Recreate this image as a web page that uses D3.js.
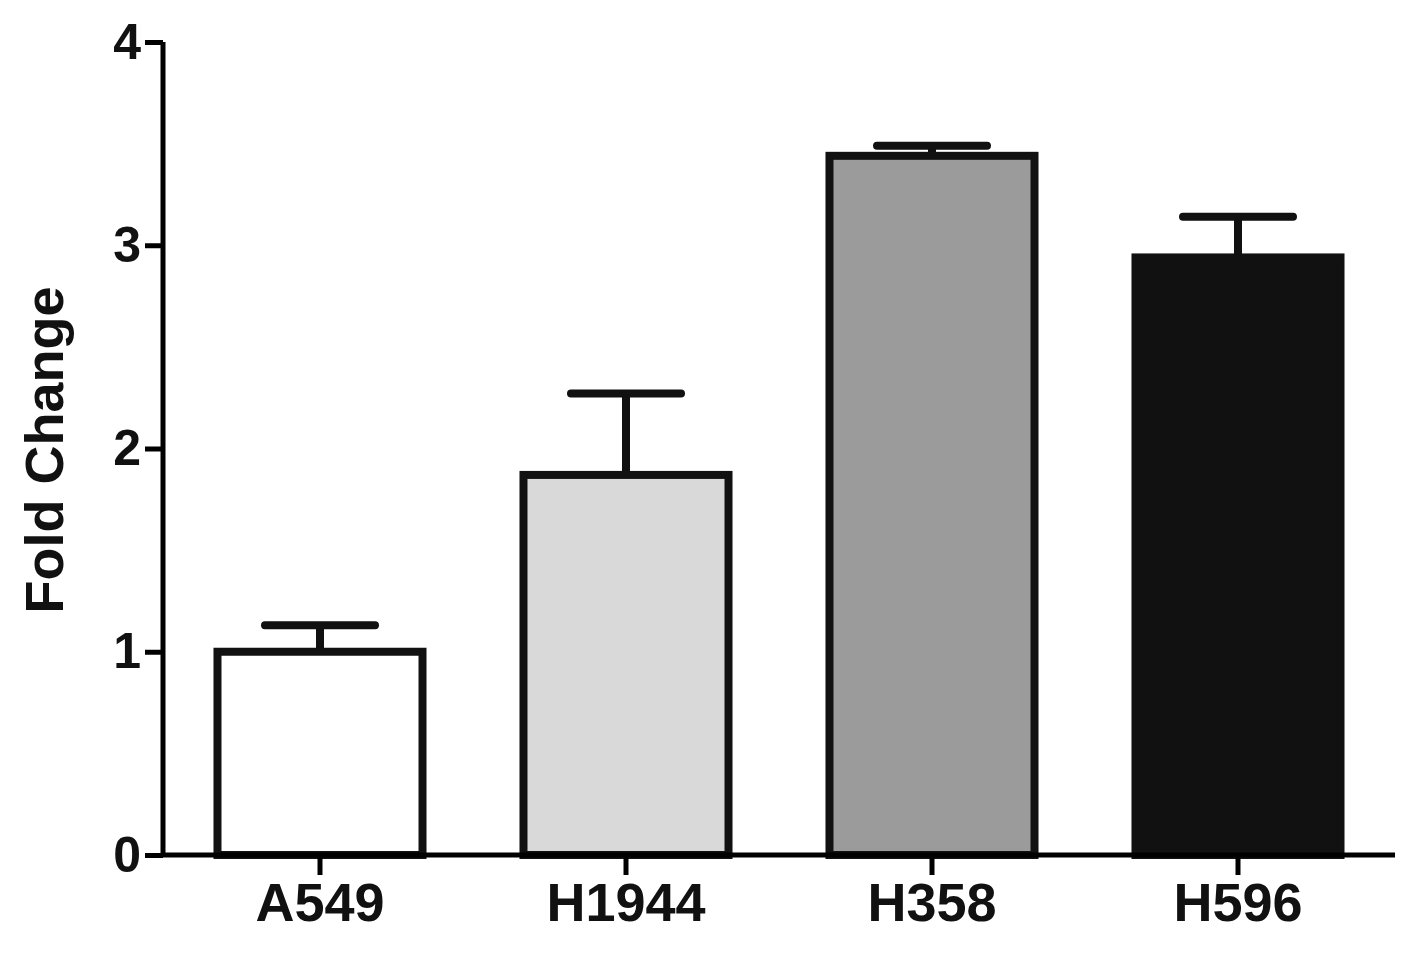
<!DOCTYPE html>
<html><head><meta charset="utf-8">
<script src="https://cdn.jsdelivr.net/npm/d3@7"></script>
<style>body{margin:0;background:#fff}text{font-family:"Liberation Sans",Arial,sans-serif;font-weight:bold}</style>
</head><body>
<script>
// data
const categories = ["A549", "H1944", "H358", "H596"];
const values = [1.0, 1.87, 3.44, 2.94];
const errors = [0.13, 0.40, 0.05, 0.20];
const fills = ["#ffffff", "#d9d9d9", "#9a9b9a", "#111111"];
const yTicks = [0, 1, 2, 3, 4];

const svg = d3.select("body").append("svg").attr("width", 1405).attr("height", 958);

const x = d3.scaleBand().domain(categories).range([167, 1391]).paddingInner(0.33).paddingOuter(0.165);
const y = d3.scaleLinear().domain([0, 4]).range([855, 42]);

// y axis
const ya = svg.append("g").attr("transform", "translate(163,0)")
    .call(d3.axisLeft(y).tickValues(yTicks).tickSize(18).tickPadding(4).tickFormat(d3.format("d")));
ya.select(".domain").attr("stroke-width", 5).attr("d", "M0,857V42");
ya.selectAll(".tick line").attr("stroke-width", 5);
ya.selectAll("text").attr("font-size", 50).attr("fill", "#111");

// error bars
const cap = 110;
const eb = svg.append("g");
categories.forEach((c, i) => {
    const cx = x(c) + x.bandwidth() / 2;
    eb.append("line").attr("x1", cx).attr("x2", cx).attr("y1", y(values[i])).attr("y2", y(values[i] + errors[i]))
        .attr("stroke", "#111").attr("stroke-width", 8);
    eb.append("line").attr("x1", cx - cap / 2).attr("x2", cx + cap / 2).attr("y1", y(values[i] + errors[i])).attr("y2", y(values[i] + errors[i]))
        .attr("stroke", "#111").attr("stroke-width", 8).attr("stroke-linecap", "round");
});

// bars
svg.selectAll(".bar").data(categories).enter().append("rect")
    .attr("x", d => x(d)).attr("width", x.bandwidth())
    .attr("y", (d, i) => y(values[i])).attr("height", (d, i) => y(0) - y(values[i]))
    .attr("fill", (d, i) => fills[i]).attr("stroke", "#111").attr("stroke-width", 8);

// x axis
const xa = svg.append("g").attr("transform", "translate(0,855)")
    .call(d3.axisBottom(x).tickSize(20).tickPadding(8));
xa.select(".domain").attr("stroke-width", 5).attr("d", "M161,0H1395");
xa.selectAll(".tick line").attr("stroke-width", 5);
xa.selectAll("text").attr("font-size", 54).attr("fill", "#111");

// y label
svg.append("text").attr("transform", "translate(63,450) rotate(-90)")
    .attr("text-anchor", "middle").attr("font-size", 54).attr("fill", "#111").text("Fold Change");
</script>
</body></html>
